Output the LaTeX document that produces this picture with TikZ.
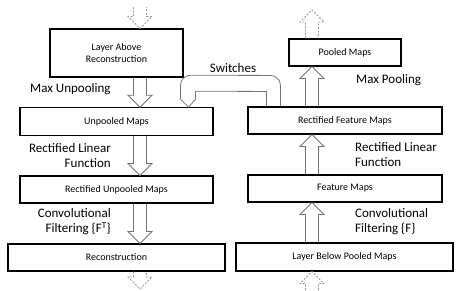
\documentclass[tikz,border=0pt]{standalone}
\usepackage{fontspec}
\setmainfont{Carlito}
\usetikzlibrary{calc}

% hollow block arrow along a column: [style]{column}{from}{to}
\newcommand{\hollowarrow}[4][]{%
  \coordinate (ha) at (#2 |- #3);
  \coordinate (hb) at (#2 |- #4);
  \coordinate (hh) at ($(hb)!12pt!(ha)$);
  \draw[hollow,#1] ($(ha)+(-6.5,0)$) -- ($(hh)+(-6.5,0)$) -- ($(hh)+(-12,0)$) -- (hb)
    -- ($(hh)+(12,0)$) -- ($(hh)+(6.5,0)$) -- ($(ha)+(6.5,0)$);
}

\begin{document}
\begin{tikzpicture}[
        x=1pt, y=-1pt,
        mapNode/.style={rectangle, draw, line width=1.1pt, align=center, inner sep=0pt, font=\fontsize{10}{12.5}\selectfont},
        stepText/.style={font=\fontsize{13}{15}\selectfont, inner sep=0pt},
        hollow/.style={draw=black!55, line width=0.8pt, line join=miter},
        dashedArrow/.style={draw=black!40, dashed, dash pattern=on 2pt off 1.5pt}
    ]
        \useasboundingbox (0,0) rectangle (465,290);

        % deconvnet side
        \node[mapNode, minimum width=133, minimum height=48] (above) at (116.5, 53) {Layer Above\\Reconstruction};
        \node[mapNode, minimum width=193, minimum height=27.5] (unpooled) at (116.5, 121.5) {Unpooled Maps};
        \node[mapNode, minimum width=193, minimum height=27] (recunpooled) at (116.5, 189.5) {Rectified Unpooled Maps};
        \node[mapNode, minimum width=217, minimum height=27] (recon) at (116.5, 257.5) {Reconstruction};

        % convnet side
        \node[mapNode, minimum width=112, minimum height=27] (pooled) at (345, 52.5) {Pooled Maps};
        \node[mapNode, minimum width=194, minimum height=27] (recfeat) at (345, 120.5) {Rectified Feature Maps};
        \node[mapNode, minimum width=194, minimum height=27] (feat) at (345, 188.5) {Feature Maps};
        \node[mapNode, minimum width=217, minimum height=28] (below) at (344.5, 257) {Layer Below Pooled Maps};

        % labels
        \node[stepText, anchor=west] (unpoolText) at (30, 89) {Max Unpooling};
        \node[stepText, anchor=east, align=right] (reluLText) at (111, 156) {Rectified Linear\\Function};
        \node[stepText, anchor=east, align=right] (convLText) at (111, 222) {Convolutional\\Filtering \{F\textsuperscript{T}\}};
        \node[stepText] (switchText) at (233, 68) {Switches};
        \node[stepText, anchor=west] (poolText) at (356, 80) {Max Pooling};
        \node[stepText, anchor=west, align=left] (reluRText) at (355, 155) {Rectified Linear\\Function};
        \node[stepText, anchor=west, align=left] (convRText) at (355, 222) {Convolutional\\Filtering \{F\}};

        \coordinate (lcol) at (140, 0);
        \coordinate (rcol) at (312, 0);
        \coordinate (aboveIn) at (140, 7);
        \coordinate (reconOut) at (140, 289);
        \coordinate (pooledOut) at (312, 10);
        \coordinate (belowIn) at (312, 290);

        \hollowarrow[dashedArrow]{lcol}{aboveIn}{above.north}
        \hollowarrow{lcol}{above.south}{unpooled.north}
        \hollowarrow{lcol}{unpooled.south}{recunpooled.north}
        \hollowarrow{lcol}{recunpooled.south}{recon.north}
        \hollowarrow[dashedArrow]{lcol}{recon.south}{reconOut}

        \hollowarrow[dashedArrow]{rcol}{belowIn}{below.south}
        \hollowarrow{rcol}{below.north}{feat.south}
        \hollowarrow{rcol}{feat.north}{recfeat.south}
        \hollowarrow{rcol}{recfeat.north}{pooled.south}
        \hollowarrow[dashedArrow]{rcol}{pooled.north}{pooledOut}

        % switches
        \draw[hollow] ($(recfeat.north west)+(33,0)$) [rounded corners=10]
            -- ($(recfeat.north west)+(33,-31)$)
            -- ($(unpooled.north east)+(-33,-32)$) [sharp corners]
            -- ($(unpooled.north east)+(-33,-8)$)
            -- ($(unpooled.north east)+(-25,0)$)
            -- ($(unpooled.north east)+(-18,-8)$)
            -- ($(unpooled.north east)+(-18,-16)$)
            -- ($(recfeat.north west)+(19,-15)$)
            -- ($(recfeat.north west)+(19,0)$);
    \end{tikzpicture}
\end{document}
